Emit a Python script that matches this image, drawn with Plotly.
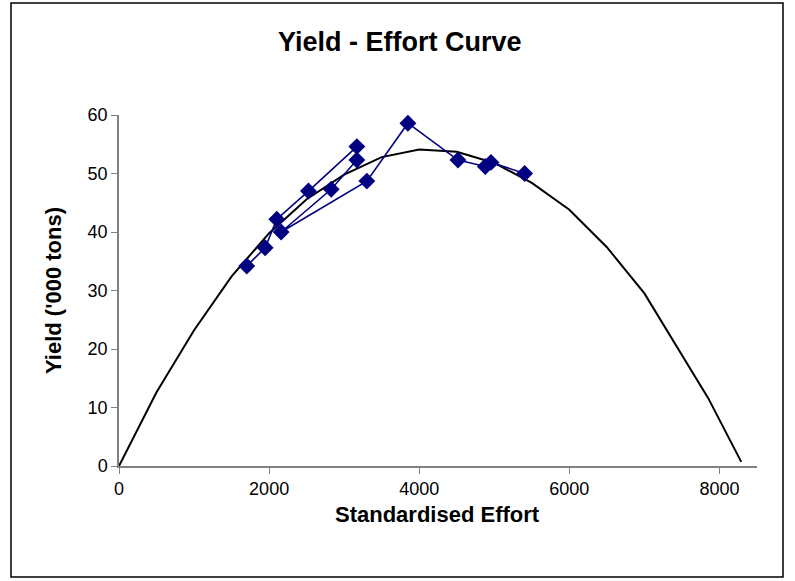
import plotly.graph_objects as go

# Observed data (in chronological order as connected in the chart)
effort_obs = [1702, 1947, 2102, 2524, 3169, 3169, 2827, 2160, 3302, 3849, 4516, 4880, 4956, 5404]
yield_obs = [34.2, 37.3, 42.2, 47.0, 54.6, 52.3, 47.3, 40.0, 48.7, 58.6, 52.3, 51.2, 51.9, 50.0]

# Fitted yield-effort curve
effort_fit = [0, 500, 1000, 1500, 2000, 2500, 3000, 3500, 4000, 4500, 5000, 5500, 6000, 6500, 7000, 7500, 7850, 8290]
yield_fit = [0, 12.6, 23.2, 32.4, 39.8, 45.6, 49.8, 52.8, 54.1, 53.7, 51.8, 48.4, 43.8, 37.4, 29.5, 19.0, 11.6, 0.7]

x_ticks = [0, 2000, 4000, 6000, 8000]
y_ticks = [0, 10, 20, 30, 40, 50, 60]

FONT = "Liberation Sans, Arial, sans-serif"
W, H = 795, 581
L, R, T, B = 119, 38, 115, 115
PW, PH = W - L - R, H - T - B


def px_x(p):
    return (p - L) / PW


def px_y(p):
    return (H - B - p) / PH


fig = go.Figure()
fig.add_trace(go.Scatter(
    x=effort_fit, y=yield_fit, mode="lines",
    line=dict(color="black", width=2), showlegend=False, hoverinfo="skip"))
fig.add_trace(go.Scatter(
    x=effort_obs, y=yield_obs, mode="lines+markers",
    line=dict(color="#000080", width=1.6),
    marker=dict(symbol="diamond", size=13, color="#000080"),
    showlegend=False))

fig.update_layout(
    width=W, height=H,
    paper_bgcolor="white", plot_bgcolor="white",
    margin=dict(l=L, r=R, t=T, b=B, autoexpand=False),
    font=dict(family=FONT, color="black", size=18),
    xaxis=dict(range=[0, 8500], tickvals=x_ticks, ticks="outside", ticklen=6,
               tickcolor="#808080", showline=True, linecolor="#808080", linewidth=1.5,
               showgrid=False, zeroline=False, tickfont=dict(size=18)),
    yaxis=dict(range=[0, 60], tickvals=y_ticks, ticks="outside", ticklen=6,
               tickcolor="#808080", showline=True, linecolor="#808080", linewidth=1.5,
               showgrid=False, zeroline=False, tickfont=dict(size=18)),
    annotations=[
        dict(text="<b>Yield - Effort Curve</b>", xref="paper", yref="paper",
             x=px_x(400), y=px_y(42), xanchor="center", yanchor="middle",
             showarrow=False, font=dict(size=27)),
        dict(text="<b>Standardised Effort</b>", xref="paper", yref="paper",
             x=px_x(437), y=px_y(514), xanchor="center", yanchor="middle",
             showarrow=False, font=dict(size=22)),
        dict(text="<b>Yield ('000 tons)</b>", xref="paper", yref="paper",
             x=px_x(53), y=px_y(291), xanchor="center", yanchor="middle",
             textangle=-90, showarrow=False, font=dict(size=22)),
    ],
    shapes=[dict(type="rect", xref="paper", yref="paper",
                 x0=px_x(11), x1=px_x(783), y0=px_y(577), y1=px_y(3),
                 line=dict(color="black", width=1.5), fillcolor="rgba(0,0,0,0)")],
)

fig.write_html("out.html", config={"displayModeBar": False},
               post_script="document.body.style.margin='0';")
